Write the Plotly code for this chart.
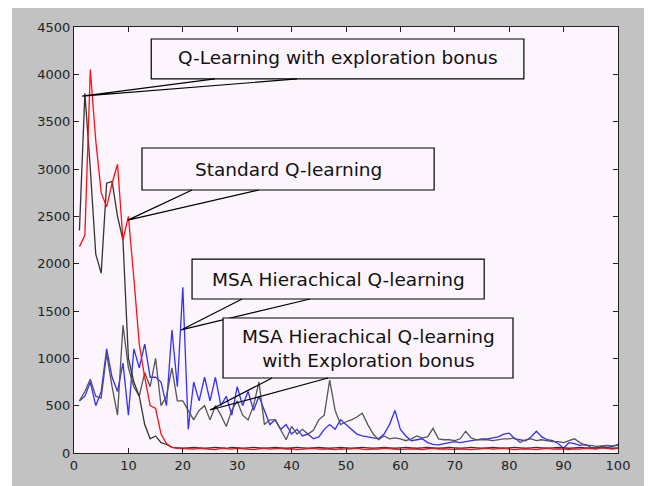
import plotly.graph_objects as go

episodes = list(range(1, 101))

standard_q = [2180, 2300, 4050, 3300, 2750, 2600, 2850, 3050, 2250, 2500,
              1850, 1150, 800, 500, 470, 200, 100, 60, 50, 50,
              45, 40, 50, 45, 40, 35, 50, 45, 40, 50,
              45, 40, 35, 45, 50, 40, 45, 50, 40, 45,
              35, 40, 45, 50, 40, 45, 40, 35, 45, 40,
              45, 50, 40, 35, 45, 40, 50, 45, 40, 35,
              40, 45, 40, 35, 45, 50, 40, 45, 40, 35,
              45, 40, 35, 40, 45, 50, 40, 45, 50, 40,
              35, 40, 45, 40, 35, 45, 50, 40, 45, 40,
              35, 45, 40, 50, 45, 40, 55, 45, 40, 50]

q_explore = [2350, 3800, 3000, 2100, 1900, 2850, 2870, 2500, 2250, 1000,
             750, 600, 300, 150, 180, 110, 90, 60, 55, 50,
             55, 60, 55, 50, 55, 60, 55, 50, 60, 55,
             50, 55, 60, 55, 50, 55, 60, 55, 50, 55,
             60, 55, 50, 55, 60, 55, 50, 55, 60, 55,
             50, 55, 60, 55, 50, 55, 60, 55, 50, 55,
             60, 55, 50, 55, 60, 55, 50, 55, 60, 55,
             50, 55, 60, 55, 50, 55, 60, 55, 50, 55,
             60, 55, 50, 55, 60, 55, 50, 55, 60, 55,
             50, 55, 60, 55, 50, 55, 60, 55, 50, 55]

msa_h = [550, 600, 750, 500, 650, 1100, 800, 650, 950, 400,
         1100, 900, 1150, 800, 800, 750, 500, 1300, 700, 1750,
         250, 750, 550, 800, 550, 800, 500, 600, 400, 700,
         500, 650, 450, 600, 450, 300, 350, 250, 300, 200,
         250, 180, 200, 150, 170, 250, 300, 250, 350, 300,
         250, 200, 180, 170, 160, 150, 200, 300, 450, 250,
         180, 130, 140, 150, 110, 90, 85, 100, 110, 120,
         110, 120, 130, 140, 150, 150, 160, 170, 200, 210,
         150, 140, 130, 170, 230, 170, 140, 130, 100, 50,
         110, 100, 80, 90, 60, 50, 70, 60, 70, 90]

msa_h_explore = [550, 650, 780, 600, 580, 1050, 700, 400, 1350, 900,
                 700, 600, 850, 700, 1000, 500, 600, 900, 550, 550,
                 450, 350, 450, 500, 350, 500, 400, 280, 450, 550,
                 400, 350, 500, 750, 300, 350, 350, 250, 140, 280,
                 200, 250, 200, 240, 350, 400, 770, 450, 300, 330,
                 350, 380, 420, 300, 200, 140, 180, 150, 160, 150,
                 130, 150, 180, 160, 170, 260, 150, 140, 140, 130,
                 150, 230, 160, 140, 140, 140, 130, 140, 150, 150,
                 160, 110, 140, 150, 130, 140, 130, 120, 120, 110,
                 130, 150, 110, 80, 80, 70, 75, 80, 75, 80]

x_ticks = [0, 10, 20, 30, 40, 50, 60, 70, 80, 90, 100]
y_ticks = [0, 500, 1000, 1500, 2000, 2500, 3000, 3500, 4000, 4500]

callouts = [
    # text, box (x0, x1, y0, y1), tip (x, y), wedge base xs, text y
    ("Q-Learning with exploration bonus", (14.2, 82.7, 3951, 4373), (1.5, 3770), (25.9, 41.0), 4180),
    ("Standard Q-learning", (12.5, 66.2, 2778, 3222), (9.9, 2460), (21.7, 34.0), 3000),
    ("MSA Hierachical Q-learning", (21.7, 75.4, 1627, 2049), (19.7, 1300), (30.9, 43.4), 1838),
    ("MSA Hierachical Q-learning<br>with Exploration bonus", (27.4, 80.7, 792, 1426), (25.0, 454), (36.4, 46.7), 1100),
]

fig = go.Figure()
fig.add_trace(go.Scatter(x=episodes, y=msa_h, mode="lines",
                         line=dict(color="#3030ff", width=1.3)))
fig.add_trace(go.Scatter(x=episodes, y=msa_h_explore, mode="lines",
                         line=dict(color="#555555", width=1.3)))
fig.add_trace(go.Scatter(x=episodes, y=q_explore, mode="lines",
                         line=dict(color="#333333", width=1.3)))
fig.add_trace(go.Scatter(x=episodes, y=standard_q, mode="lines",
                         line=dict(color="#ff1010", width=1.3)))

bg = "#fdf5fd"
shapes = []
annotations = []
for text, (bx0, bx1, by0, by1), (tx, ty), (w0, w1), text_y in callouts:
    shapes.append(dict(type="rect", xref="x", yref="y", x0=bx0, x1=bx1, y0=by0, y1=by1,
                       line=dict(color="black", width=1.2), fillcolor=bg, layer="above"))
    shapes.append(dict(type="path", xref="x", yref="y",
                       path=f"M {w0},{by0} L {tx},{ty} L {w1},{by0}",
                       line=dict(color="black", width=1.2), layer="above"))
    annotations.append(dict(x=(bx0 + bx1) / 2, y=text_y, xref="x", yref="y", text=text,
                            showarrow=False, font=dict(family="DejaVu Sans", size=18.5, color="#111111"),
                            align="center"))

# extra white strip at the left edge of the image (page margin supplies the rest)
shapes.append(dict(type="rect", xref="paper", yref="paper", x0=-66/544, x1=-62/544,
                   y0=-33/426, y1=(426+19)/426, fillcolor="white", line=dict(width=0), layer="below"))

axis_common = dict(showgrid=False, zeroline=False, ticks="inside", ticklen=5,
                   tickcolor="#222222", showline=True, linecolor="#222222", linewidth=1,
                   mirror="ticks", tickfont=dict(family="DejaVu Sans", size=13, color="#222222"))

fig.update_layout(
    width=644, height=478,
    margin=dict(l=66, r=34, t=19, b=33),
    paper_bgcolor="#c2c2c2",
    plot_bgcolor=bg,
    showlegend=False,
    shapes=shapes,
    annotations=annotations,
    xaxis=dict(range=[0, 100], tickvals=x_ticks, **axis_common),
    yaxis=dict(range=[0, 4500], tickvals=y_ticks, **axis_common),
)

fig.write_html("out.html")
